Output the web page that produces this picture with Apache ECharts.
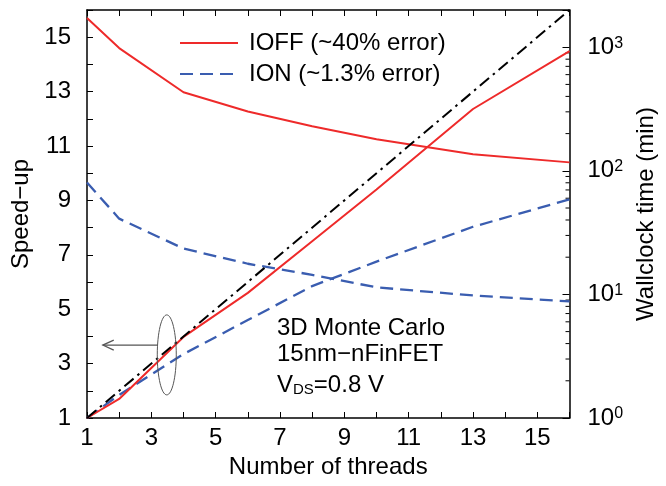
<!DOCTYPE html>
<html>
<head>
<meta charset="utf-8">
<script src="https://cdn.jsdelivr.net/npm/echarts@6/dist/echarts.min.js"></script>
<style>
html,body{margin:0;padding:0;background:#fff;}
#c{width:666px;height:486px;}
</style>
</head>
<body>
<div id="c"></div>
<script>
// ---- data ----
const threads = [1, 2, 4, 6, 8, 10, 13, 16];
const ioffSpeedup = [1, 1.70, 3.98, 5.6, 7.5, 9.4, 12.36, 14.49];
const ionSpeedup = [1, 1.85, 3.35, 4.6, 5.85, 6.75, 8.03, 9.04];
const ioffWallclock = [1722, 984, 432, 302, 229, 180, 136, 117];
const ionWallclock = [80.5, 41, 23.5, 17.7, 14.4, 11.4, 9.8, 8.77];
const idealThreads = [1, 16];
const idealSpeedup = [1, 16];
const rightMinorTicks = [2,3,4,5,6,7,8,9,20,30,40,50,60,70,80,90,200,300,400,500,600,700,800,900];
const xTickLabels = [1, 3, 5, 7, 9, 11, 13, 15];
const yTickLabels = [1, 3, 5, 7, 9, 11, 13, 15];
const legendNames = ['IOFF (~40% error)', 'ION (~1.3% error)'];
const noteLines = ['3D Monte Carlo', '15nm\u2212nFinFET'];
// annotation anchor (data coords): ellipse centre, arrow level, arrow tip
const ellipseAt = [3.48, 3.32];
const arrowY = 3.68;
const arrowTipX = 1.49;

const FONT = '"Liberation Sans", Arial, Helvetica, sans-serif';
const RED = '#ee2a2a';
const BLUE = '#3a5db0';
const FS = 24;

const zip = (a, b) => a.map((v, i) => [v, b[i]]);

const chart = echarts.init(document.getElementById('c'), null, {renderer: 'canvas'});

const option = {
  animation: false,
  textStyle: {fontFamily: FONT, color: '#000'},
  grid: {left: 87, right: 89, top: 10, bottom: 68, containLabel: false},
  legend: {
    left: 174, top: 26, orient: 'vertical',
    itemWidth: 58, itemHeight: 14, itemGap: 7,
    data: legendNames,
    itemStyle: {opacity: 0},
    textStyle: {fontFamily: FONT, fontSize: FS, color: '#000', padding: [0, 0, 0, 6]},
    selectedMode: false
  },
  xAxis: [{
    type: 'value', min: 1, max: 16, interval: 1, position: 'bottom',
    name: 'Number of threads', nameLocation: 'middle', nameGap: 36,
    nameTextStyle: {fontFamily: FONT, fontSize: FS, color: '#000'},
    axisLine: {lineStyle: {color: '#000', width: 1.5}},
    axisTick: {inside: true, length: 6, lineStyle: {color: '#000', width: 1}},
    axisLabel: {margin: 8, fontFamily: FONT, fontSize: FS, color: '#000',
      formatter: v => xTickLabels.indexOf(v) >= 0 ? String(v) : ''},
    splitLine: {show: false}
  }, {
    type: 'value', min: 1, max: 16, interval: 1, position: 'top',
    axisLine: {lineStyle: {color: '#000', width: 1.5}},
    axisTick: {inside: true, length: 6, lineStyle: {color: '#000', width: 1}},
    axisLabel: {show: false}, splitLine: {show: false}
  }],
  yAxis: [{
    type: 'value', min: 1, max: 16, interval: 1, position: 'left',
    name: 'Speed\u2212up', nameLocation: 'middle', nameGap: 52, nameRotate: 90,
    nameTextStyle: {fontFamily: FONT, fontSize: FS, color: '#000'},
    axisLine: {show: true, lineStyle: {color: '#000', width: 1.5}},
    axisTick: {inside: true, length: 6, lineStyle: {color: '#000', width: 1}},
    axisLabel: {margin: 16, fontFamily: FONT, fontSize: FS, color: '#000',
      formatter: v => yTickLabels.indexOf(v) >= 0 ? String(v) : ''},
    splitLine: {show: false}
  }, {
    type: 'log', logBase: 10, min: 1, max: 2000, position: 'right',
    name: 'Wallclock time (min)', nameLocation: 'middle', nameGap: 43, nameRotate: 90,
    nameTextStyle: {fontFamily: FONT, fontSize: FS, color: '#000'},
    axisLine: {show: true, lineStyle: {color: '#000', width: 1.5}},
    axisTick: {inside: true, length: 7, lineStyle: {color: '#000', width: 1}},
    axisLabel: {margin: 18, color: '#000',
      formatter: v => {
        const e = Math.round(Math.log10(v));
        if (Math.abs(Math.pow(10, e) - v) > 1e-6 * v) return '';
        return '{b|10}{s|' + e + '}';
      },
      rich: {
        b: {fontFamily: FONT, fontSize: FS, lineHeight: 24, verticalAlign: 'bottom', padding: [10, 0, 0, 0]},
        s: {fontFamily: FONT, fontSize: 16, lineHeight: 16, verticalAlign: 'top'}
      }
    },
    splitLine: {show: false}
  }],
  series: [
    {name: legendNames[0], type: 'line', xAxisIndex: 0, yAxisIndex: 0, data: zip(threads, ioffSpeedup),
      symbol: 'none', lineStyle: {color: RED, width: 2}, itemStyle: {color: RED}, z: 5},
    {name: legendNames[0], type: 'line', xAxisIndex: 0, yAxisIndex: 1, data: zip(threads, ioffWallclock),
      symbol: 'none', lineStyle: {color: RED, width: 2}, itemStyle: {color: RED}, z: 5},
    {name: legendNames[1], type: 'line', xAxisIndex: 0, yAxisIndex: 0, data: zip(threads, ionSpeedup),
      symbol: 'none', lineStyle: {color: BLUE, width: 2.3, type: [13, 7]}, itemStyle: {color: BLUE}, z: 4},
    {name: legendNames[1], type: 'line', xAxisIndex: 0, yAxisIndex: 1, data: zip(threads, ionWallclock),
      symbol: 'none', lineStyle: {color: BLUE, width: 2.3, type: [13, 7]}, itemStyle: {color: BLUE}, z: 4},
    {name: 'ideal', type: 'line', xAxisIndex: 0, yAxisIndex: 0, data: zip(idealThreads, idealSpeedup),
      symbol: 'none', lineStyle: {color: '#000', width: 2, type: [12, 5, 2.5, 5]}, itemStyle: {color: '#000'}, z: 6},
    {name: 'minorTicks', type: 'custom', xAxisIndex: 0, yAxisIndex: 1,
      data: rightMinorTicks.map(v => [16, v]), clip: false, silent: true,
      renderItem: (params, api) => {
        const p = api.coord([api.value(0), api.value(1)]);
        return {type: 'line', shape: {x1: p[0] - 4, y1: p[1], x2: p[0], y2: p[1]},
          style: {stroke: '#000', lineWidth: 1}};
      }, z: 3}
  ]
};
chart.setOption(option);

const c = chart.convertToPixel({xAxisIndex: 0, yAxisIndex: 0}, ellipseAt);
const tip = chart.convertToPixel({xAxisIndex: 0, yAxisIndex: 0}, [arrowTipX, arrowY]);
const rx = 9.5, ry = 40;
const dy = tip[1] - c[1];
const startX = c[0] - rx * Math.sqrt(Math.max(0, 1 - (dy * dy) / (ry * ry)));
const gray = '#555';

chart.setOption({
  graphic: [
    {type: 'ellipse', shape: {cx: c[0], cy: c[1], rx: rx, ry: ry},
      style: {fill: 'none', stroke: gray, lineWidth: 1}, z: 10},
    {type: 'line', shape: {x1: startX, y1: tip[1], x2: tip[0], y2: tip[1]},
      style: {stroke: gray, lineWidth: 1.2}, z: 10},
    {type: 'polyline', shape: {points: [[tip[0] + 11, tip[1] - 5], [tip[0], tip[1]], [tip[0] + 11, tip[1] + 5]]},
      style: {fill: 'none', stroke: gray, lineWidth: 1.2}, z: 10},
    {type: 'text', left: 277, top: 316, z: 10,
      style: {text: noteLines[0], font: FS + 'px ' + FONT, fill: '#000'}},
    {type: 'text', left: 277, top: 342, z: 10,
      style: {text: noteLines[1], font: FS + 'px ' + FONT, fill: '#000'}},
    {type: 'text', left: 277, top: 368, z: 10,
      style: {text: '{v|V}{sub|DS}{v|=0.8 V}',
        rich: {
          v: {fontFamily: FONT, fontSize: FS, lineHeight: 24, verticalAlign: 'top', fill: '#000'},
          sub: {fontFamily: FONT, fontSize: 15, lineHeight: 15, padding: [14, 0, 0, 0], verticalAlign: 'bottom', fill: '#000'}
        }}}
  ]
});
</script>
</body>
</html>
